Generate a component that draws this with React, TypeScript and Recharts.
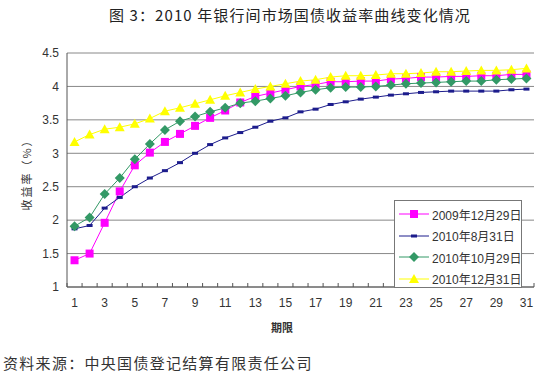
import { LineChart, Line, XAxis, YAxis, CartesianGrid } from 'recharts'

const terms = [1, 2, 3, 4, 5, 6, 7, 8, 9, 10, 11, 12, 13, 14, 15, 16, 17, 18, 19, 20, 21, 22, 23, 24, 25, 26, 27, 28, 29, 30, 31]

const yield20091229 = [1.40, 1.50, 1.96, 2.43, 2.82, 3.01, 3.17, 3.29, 3.41, 3.53, 3.64, 3.76, 3.85, 3.90, 3.95, 4.00, 4.03, 4.07, 4.07, 4.08, 4.08, 4.11, 4.12, 4.14, 4.14, 4.15, 4.15, 4.16, 4.16, 4.18, 4.18]
const yield20100831 = [1.87, 1.92, 2.18, 2.34, 2.50, 2.63, 2.74, 2.86, 3.00, 3.13, 3.23, 3.31, 3.39, 3.48, 3.53, 3.62, 3.66, 3.73, 3.77, 3.81, 3.84, 3.87, 3.89, 3.91, 3.92, 3.93, 3.93, 3.93, 3.93, 3.95, 3.96]
const yield20101029 = [1.91, 2.04, 2.39, 2.63, 2.91, 3.14, 3.35, 3.48, 3.55, 3.62, 3.68, 3.75, 3.78, 3.82, 3.86, 3.91, 3.95, 3.98, 3.99, 3.99, 4.00, 4.02, 4.04, 4.05, 4.06, 4.07, 4.08, 4.08, 4.10, 4.11, 4.12]
const yield20101231 = [3.17, 3.28, 3.36, 3.39, 3.44, 3.52, 3.63, 3.68, 3.74, 3.80, 3.86, 3.91, 3.96, 4.00, 4.04, 4.08, 4.10, 4.14, 4.16, 4.16, 4.17, 4.19, 4.19, 4.20, 4.22, 4.22, 4.23, 4.24, 4.24, 4.25, 4.27]

const seriesNames = ['2009年12月29日', '2010年8月31日', '2010年10月29日', '2010年12月31日']
const yTicks = [1, 1.5, 2, 2.5, 3, 3.5, 4, 4.5]

const data = terms.map((t, i) => ({
  term: t,
  s1: yield20091229[i],
  s2: yield20100831[i],
  s3: yield20101029[i],
  s4: yield20101231[i],
}))

// labels on odd terms, small tick marks on category boundaries
const xTicks = [...terms.map((t) => t - 0.5), ...terms, terms[terms.length - 1] + 0.5].sort((a, b) => a - b)

const FONT = '"Liberation Sans", Arial, "Noto Sans CJK SC", sans-serif'
const CJK = '"Noto Sans CJK SC", "Liberation Sans", sans-serif'

const colors = ['#FF00FF', '#1C1C8C', '#339966', '#FFFF00']

const Square = ({ cx, cy, color }: any) => <rect x={cx - 4} y={cy - 4} width={8} height={8} fill={color} />
const Dash = ({ cx, cy, color }: any) => <rect x={cx - 3} y={cy - 1.5} width={6} height={3} fill={color} />
const Diamond = ({ cx, cy, color }: any) => (
  <path d={`M${cx},${cy - 5}L${cx + 5},${cy}L${cx},${cy + 5}L${cx - 5},${cy}Z`} fill={color} />
)
const Triangle = ({ cx, cy, color }: any) => (
  <path d={`M${cx},${cy - 5}L${cx + 5},${cy + 4}L${cx - 5},${cy + 4}Z`} fill={color} />
)
const markers = [Square, Dash, Diamond, Triangle]

const XTick = (props: any) => {
  const { x, y, payload } = props
  const v = payload.value
  if (!Number.isInteger(v)) {
    return <line x1={x} y1={y} x2={x} y2={y - 4} stroke="#555" />
  }
  if (v % 2 === 0) return <g />
  return (
    <text x={x} y={y + 20} textAnchor="middle" fontSize={12} fill="#333" fontFamily={FONT}>
      {v}
    </text>
  )
}

export default function App() {
  return (
    <div style={{ position: 'absolute', left: 0, top: 0, width: 550, height: 377, background: '#fff', fontFamily: CJK }}>
      <div style={{ position: 'absolute', left: 109, top: 4, fontSize: 15, color: '#222', whiteSpace: 'nowrap', letterSpacing: 1.1 }}>
        图 3：2010 年银行间市场国债收益率曲线变化情况
      </div>

      <LineChart width={550} height={377} data={data} margin={{ top: 53, right: 16, left: 0, bottom: 60 }}>
        <CartesianGrid vertical={false} stroke="#888" />
        <XAxis
          type="number"
          dataKey="term"
          domain={[0.5, 31.5]}
          ticks={xTicks}
          interval={0}
          tickLine={false}
          tickSize={0}
          tickMargin={0}
          axisLine={{ stroke: '#555' }}
          height={30}
          tick={<XTick />}
        />
        <YAxis
          domain={[1, 4.5]}
          ticks={yTicks}
          width={67}
          tickLine={false}
          tickSize={6}
          tickMargin={2}
          axisLine={{ stroke: '#555' }}
          tick={{ fontSize: 12, fill: '#333', fontFamily: FONT }}
        />
        {['s1', 's2', 's3', 's4'].map((key, i) => {
          const M = markers[i]
          return (
            <Line
              key={key}
              dataKey={key}
              stroke={colors[i]}
              strokeWidth={1}
              isAnimationActive={false}
              dot={(p: any) => <M key={`${key}-${p.index}`} cx={p.cx} cy={p.cy} color={colors[i]} />}
              activeDot={false}
            />
          )
        })}
      </LineChart>

      <div style={{ position: 'absolute', left: 26, top: 172, transform: 'translate(-50%, -50%) rotate(-90deg)', fontSize: 11, color: '#333', whiteSpace: 'nowrap', letterSpacing: 2 }}>
        收益率（%）
      </div>

      <div style={{ position: 'absolute', left: 282, top: 327, transform: 'translate(-50%, -50%)', fontSize: 11, color: '#333', fontWeight: 'bold' }}>
        期限
      </div>

      <div style={{ position: 'absolute', left: 394, top: 200, width: 128, height: 88, background: '#fff', border: '1px solid #777', boxSizing: 'border-box' }}>
        {seriesNames.map((name, i) => {
          const M = markers[i]
          return (
            <div key={name} style={{ position: 'absolute', left: 4, top: 4 + i * 21.5, height: 18, display: 'flex', alignItems: 'center' }}>
              <svg width={30} height={18}>
                <line x1={0} y1={9} x2={30} y2={9} stroke={colors[i]} />
                <M cx={15} cy={9} color={colors[i]} />
              </svg>
              <span style={{ fontSize: 12, color: '#333', marginLeft: 3, fontFamily: FONT, whiteSpace: 'nowrap' }}>{name}</span>
            </div>
          )
        })}
      </div>

      <div style={{ position: 'absolute', left: 3, top: 352, fontSize: 15, color: '#333', whiteSpace: 'nowrap', letterSpacing: 1.3 }}>
        资料来源：中央国债登记结算有限责任公司
      </div>
    </div>
  )
}
